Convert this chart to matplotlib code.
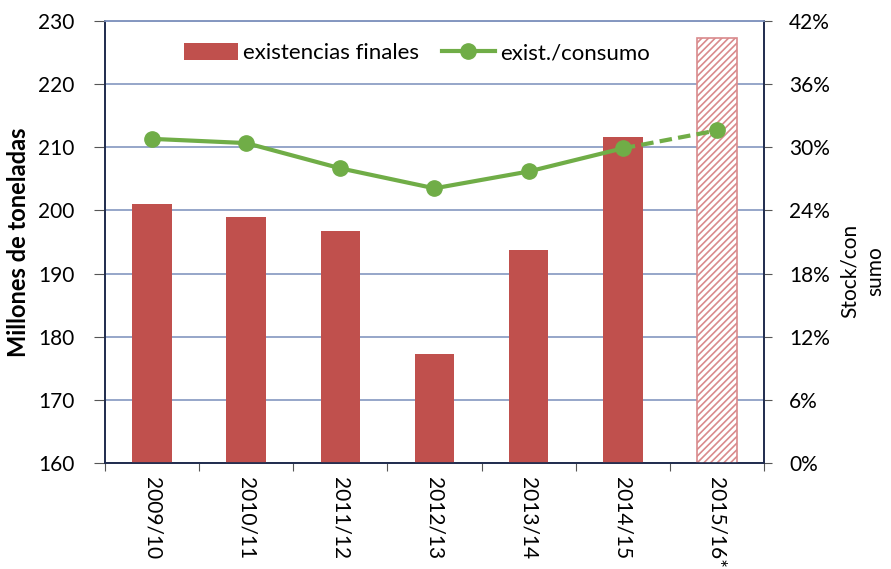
import matplotlib
matplotlib.use("Agg")
import matplotlib.pyplot as plt
import numpy as np
from matplotlib.ticker import FuncFormatter

plt.rcParams['font.family'] = ['Lato', 'DejaVu Sans']
plt.rcParams['hatch.linewidth'] = 1.2

campanas = ["2009/10", "2010/11", "2011/12", "2012/13", "2013/14", "2014/15", "2015/16*"]
existencias = [201.0, 199.0, 196.8, 177.2, 193.8, 211.7, 227.3]
ratio = [30.8, 30.4, 28.0, 26.1, 27.7, 29.9, 31.6]

rojo = "#C0504D"
verde = "#70AD47"
rejilla = "#8497C0"
eje = "#1F2B4D"

fig = plt.figure(figsize=(8.91, 5.69), dpi=100)
ax = fig.add_axes([0.1178, 0.1863, 0.7397, 0.7768])
ax2 = ax.twinx()

x = np.arange(len(campanas))
ancho = 0.42

# bars: firm seasons solid, forecast hatched
ax.bar(x[:-1], existencias[:-1], width=ancho, color=rojo, zorder=3,
       label="existencias finales")
ax.bar(x[-1:], existencias[-1:], width=ancho, color="white", edgecolor="#D98A8C",
       hatch="/////", linewidth=1.2, zorder=3)

ax.set_ylim(160, 230)
ax.set_yticks(np.arange(160, 231, 10))
ax.set_xlim(-0.5, len(campanas) - 0.5)
ax.grid(axis="y", color=rejilla, linewidth=1.2, zorder=0)
ax.set_axisbelow(True)
ax.set_xticks(np.arange(-0.5, len(campanas), 1.0), minor=False)
ax.set_xticklabels([])
ax.set_xticks(x, minor=True)
ax.set_xticklabels(campanas, minor=True, rotation=270, fontsize=15)
ax.tick_params(axis="x", which="minor", length=0, pad=10)
ax.tick_params(axis="x", which="major", length=6, color="#555555", direction="out")
ax.tick_params(axis="y", length=8, color="#555555", labelsize=15, pad=14)
ax.set_ylabel("Millones de toneladas", fontsize=17, fontweight="bold", labelpad=6)

# stock-to-use ratio on the right axis
ax2.plot(x[:-1], ratio[:-1], color=verde, linewidth=3, marker="o", markersize=11,
         zorder=5, label="exist./consumo")
ax2.plot(x[-2:], ratio[-2:], color=verde, linewidth=3, linestyle=(0, (3, 1.5)), zorder=4)
ax2.plot(x[-1:], ratio[-1:], color=verde, linewidth=0, marker="o", markersize=11, zorder=5)
ax2.set_ylim(0, 42)
ax2.set_yticks(np.arange(0, 43, 6))
ax2.yaxis.set_major_formatter(FuncFormatter(lambda v, p: f"{v:.0f}%"))
ax2.tick_params(axis="y", length=6, color="#555555", labelsize=15, pad=12)
ax2.set_ylabel("Stock/con\nsumo", fontsize=15, linespacing=1.35)
ax2.yaxis.set_label_coords(1.115, 0.435)

for a in (ax, ax2):
    for s in a.spines.values():
        s.set_color(eje)
        s.set_linewidth(1.2)
ax.spines["top"].set_color(rejilla)
ax2.spines["top"].set_color(rejilla)

h1, l1 = ax.get_legend_handles_labels()
h2, l2 = ax2.get_legend_handles_labels()
ax.legend(h1 + h2, l1 + l2, loc="upper center", bbox_to_anchor=(0.474, 0.995), ncol=2,
          frameon=False, fontsize=16, handlelength=2.4, handleheight=0.8,
          columnspacing=1.0, handletextpad=0.25)

fig.savefig("out.png", dpi=100)
